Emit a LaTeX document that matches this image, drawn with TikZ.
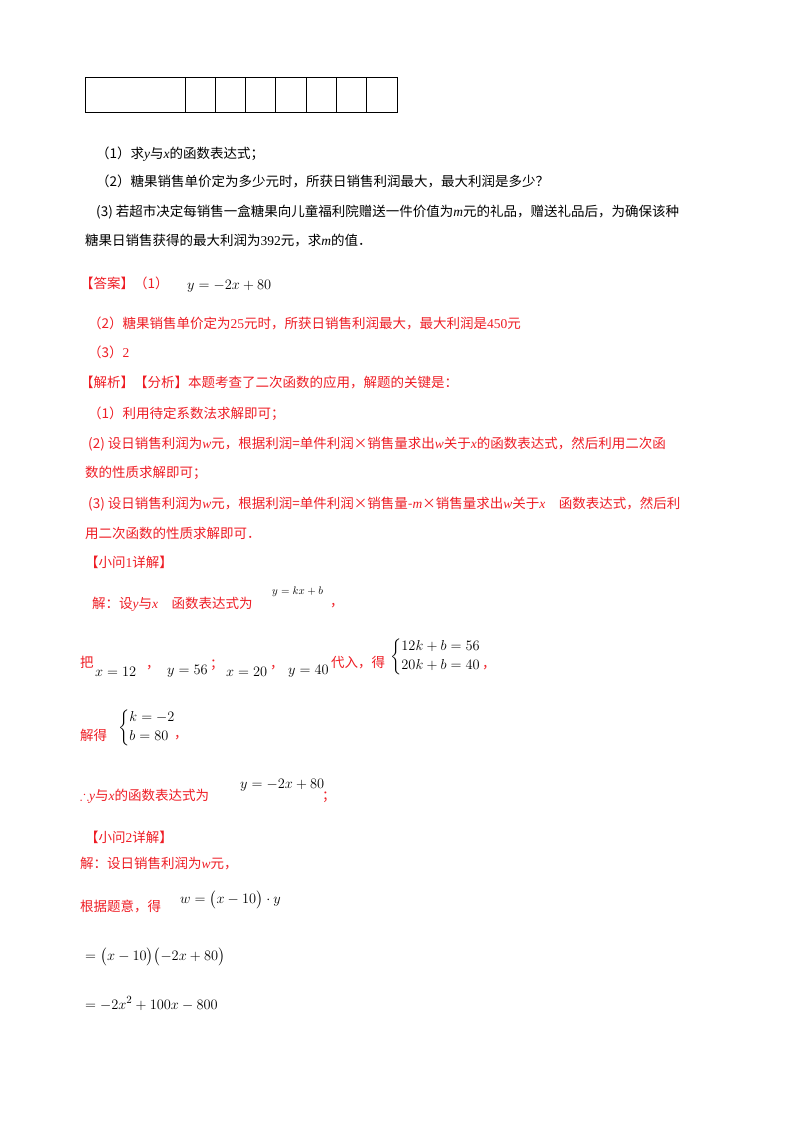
\documentclass[tikz,border=0pt]{standalone}
\usepackage{fontspec}
\usepackage{amsmath,amssymb}
\setmainfont{Liberation Serif}
\newfontfamily\cjk{Noto Sans CJK SC}
\definecolor{ans}{RGB}{238,28,36}
\newcommand{\mi}[1]{{\rmfamily\itshape #1}}
\newcommand{\nm}[1]{{\rmfamily #1}}
\begin{document}
\begin{tikzpicture}[x=1pt,y=-1pt,
  t/.style={anchor=base west,inner sep=0,font=\cjk\fontsize{13.5}{14}\selectfont},
  r/.style={t,text=ans},
  m/.style={anchor=base west,inner sep=0,font=\fontsize{15}{16}\selectfont},
  ms/.style={anchor=base west,inner sep=0,font=\fontsize{11}{12}\selectfont}]
\useasboundingbox (0,0) rectangle (800,1132);
% table
\draw[line width=1pt] (85,77) rectangle (397,112);
\foreach \xx in {185,215,245,275,306,336,366} \draw[line width=1pt] (\xx,77) -- (\xx,112);
% questions
\node[t] (q1) at (96,158) {（1）求\mi{y}与\mi{x}的函数表达式；};
\node[t] (q2) at (96,186) {（2）糖果销售单价定为多少元时，所获日销售利润最大，最大利润是多少？};
\node[t] (q3) at (96,216) {(3) 若超市决定每销售一盒糖果向儿童福利院赠送一件价值为\mi{m}元的礼品，赠送礼品后，为确保该种};
\node[t] (q3b) at (85,245) {糖果日销售获得的最大利润为\nm{392}元，求\mi{m}的值．};
% answers
\node[r] (a0) at (80,288) {【答案】（1）};
\node[m] (a1) at (187,289) {$y=-2x+80$};
\node[r] (a2) at (88,328) {（2）糖果销售单价定为\nm{25}元时，所获日销售利润最大，最大利润是\nm{450}元};
\node[r] (a3) at (88,357) {（3）\nm{2}};
\node[r] (j0) at (80,387) {【解析】【分析】本题考查了二次函数的应用，解题的关键是：};
\node[r] (j1) at (88,418) {（1）利用待定系数法求解即可；};
\node[r] (j2) at (88,448) {(2) 设日销售利润为\mi{w}元，根据利润=单件利润×销售量求出\mi{w}关于\mi{x}的函数表达式，然后利用二次函};
\node[r] (j2b) at (85,477) {数的性质求解即可；};
\node[r] (j3) at (88,508) {(3) 设日销售利润为\mi{w}元，根据利润=单件利润×销售量-\mi{m}×销售量求出\mi{w}关于\mi{x}\quad 函数表达式，然后利};
\node[r] (j3b) at (85,538) {用二次函数的性质求解即可．};
% part 1
\node[r] (p1) at (85,567) {【小问\nm{1}详解】};
\node[r] (s1) at (92,608) {解：设\mi{y}与\mi{x}\quad 函数表达式为};
\node[ms] (f1) at (272,594) {$y=kx+b$};
\node[r] (c1) at (330,606) {，};
\node[r] (b1) at (80,667) {把};
\node[m] (f2) at (95,676) {$x=12$};
\node[r] (c2) at (146,668) {，};
\node[m] (f3) at (167,674) {$y=56$};
\node[r] (c3) at (210,668) {；};
\node[m] (f4) at (226,676) {$x=20$};
\node[r] (c4) at (270,668) {，};
\node[m] (f5) at (288,674) {$y=40$};
\node[r] (dr) at (331,667) {代入，得};
\node[m] (sys1) at (390,660) {$\begin{cases}12k+b=56\\20k+b=40\end{cases}$};
\node[r] (c5) at (482,668) {，};
\node[r] (jd) at (80,740) {解得};
\node[m] (sys2) at (118,731) {$\begin{cases}k=-2\\b=80\end{cases}$};
\node[r] (c6) at (174,738) {，};
\node[r] (th) at (80,800) {$\therefore$\mi{y}与\mi{x}的函数表达式为};
\node[m] (f6) at (240,788) {$y=-2x+80$};
\node[r] (c7) at (322,800) {；};
% part 2
\node[r] (p2) at (85,842) {【小问\nm{2}详解】};
\node[r] (s2) at (80,868) {解：设日销售利润为\mi{w}元，};
\node[r] (g2) at (80,911) {根据题意，得};
\node[m] (f7) at (180,903) {$w=\bigl(x-10\bigr)\cdot y$};
\node[m] (f8) at (85,960) {$=\bigl(x-10\bigr)\bigl(-2x+80\bigr)$};
\node[m] (f9) at (85,1009) {$=-2x^{2}+100x-800$};
\end{tikzpicture}
\end{document}
